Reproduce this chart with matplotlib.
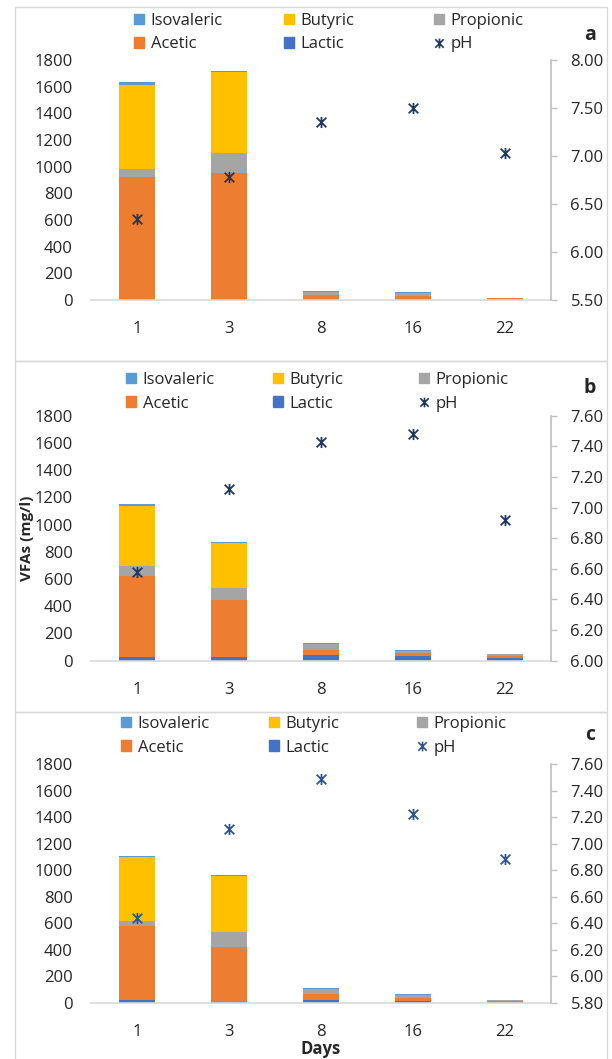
import matplotlib.pyplot as plt
from matplotlib.patches import Rectangle, Patch
from matplotlib.lines import Line2D
from matplotlib.path import Path
import numpy as np

plt.rcParams['font.family'] = ['Open Sans', 'DejaVu Sans']
plt.rcParams['font.size'] = 12
plt.rcParams['text.color'] = '#262626'

days = ["1", "3", "8", "16", "22"]

# VFA concentrations (mg/l) for the three runs
lactic_a = [10, 8, 8, 8, 0]
acetic_a = [915, 945, 30, 22, 12]
propionic_a = [58, 150, 24, 25, 0]
butyric_a = [630, 610, 0, 0, 0]
isovaleric_a = [20, 5, 8, 5, 0]
ph_a = [6.34, 6.78, 7.35, 7.50, 7.03]

lactic_b = [30, 28, 41, 34, 19]
acetic_b = [590, 416, 40, 22, 15]
propionic_b = [78, 93, 39, 14, 12]
butyric_b = [437, 326, 0, 0, 0]
isovaleric_b = [15, 9, 9, 6, 5]
ph_b = [6.58, 7.12, 7.43, 7.48, 6.92]

lactic_c = [18, 5, 17, 10, 0]
acetic_c = [562, 412, 45, 27, 12]
propionic_c = [37, 118, 43, 23, 11]
butyric_c = [485, 421, 0, 0, 0]
isovaleric_c = [8, 8, 8, 2, 0]
ph_c = [6.44, 7.11, 7.49, 7.22, 6.88]

colors = {"Lactic": "#4472C4", "Acetic": "#ED7D31", "Propionic": "#A5A5A5",
          "Butyric": "#FFC000", "Isovaleric": "#5B9BD5"}

# Excel-style star: an x crossed by a vertical stroke
star = Path([(-1, -1), (1, 1), (-1, 1), (1, -1), (0, -1.15), (0, 1.15)],
            [Path.MOVETO, Path.LINETO, Path.MOVETO, Path.LINETO,
             Path.MOVETO, Path.LINETO])

W, H = 612, 1059
fig = plt.figure(figsize=(W / 100, H / 100), dpi=100)


def px(x, y):
    return x / W, 1 - y / H


panels = [
    # letter, series, ph, ph ylim, ph ticks, axes top/bottom px, box top/bottom px,
    # legend columns x px, legend top px, letter y px, star colour
    ("a", [lactic_a, acetic_a, propionic_a, butyric_a, isovaleric_a], ph_a,
     (5.5, 8.0), np.arange(5.5, 8.01, 0.5), 60, 300, 7, 361,
     (134, 284, 434), 13, 35, "#1F3864"),
    ("b", [lactic_b, acetic_b, propionic_b, butyric_b, isovaleric_b], ph_b,
     (6.0, 7.6), np.arange(6.0, 7.61, 0.2), 415.7, 660.7, 361, 712,
     (126, 273, 419), 372, 388, "#1F3864"),
    ("c", [lactic_c, acetic_c, propionic_c, butyric_c, isovaleric_c], ph_c,
     (5.8, 7.6), np.arange(5.8, 7.61, 0.2), 764, 1002.7, 712, 1070,
     (121, 269, 417), 716, 735, "#2F5597"),
]

names = ["Lactic", "Acetic", "Propionic", "Butyric", "Isovaleric"]
x = np.arange(len(days))

for (letter, series, ph, phlim, phticks, top, bottom, btop, bbot,
     legx, legy, lety, starc) in panels:
    # light frame round each chart
    fig.add_artist(Rectangle(px(15, bbot), (607 - 15) / W, (bbot - btop) / H,
                             transform=fig.transFigure, fill=False,
                             ec="#D9D9D9", lw=1))

    l, b = px(91, bottom)
    ax = fig.add_axes([l, b, 460 / W, (bottom - top) / H])
    base = np.zeros(len(days))
    for name, vals in zip(names, series):
        ax.bar(x, vals, 0.4, bottom=base, color=colors[name], linewidth=0)
        base += np.array(vals)
    ax.set_xlim(-0.5, 4.5)
    ax.set_ylim(0, 1800)
    ax.set_yticks(range(0, 1801, 200))
    ax.set_xticks(x)
    ax.set_xticklabels(days)
    for s in ["top", "left", "right"]:
        ax.spines[s].set_visible(False)
    ax.spines["bottom"].set_color("#D9D9D9")
    ax.spines["bottom"].set_linewidth(1.2)
    ax.tick_params(axis="y", length=0, pad=13, labelsize=12, labelcolor="#262626")
    ax.tick_params(axis="x", length=0, pad=15, labelsize=12, labelcolor="#262626")

    ax2 = ax.twinx()
    ax2.plot(x, ph, linestyle="none", marker=star, markersize=8,
             markeredgewidth=1.3, color=starc)
    ax2.set_ylim(*phlim)
    ax2.set_yticks(phticks)
    ax2.set_yticklabels([f"{t:.2f}" for t in phticks])
    for s in ["top", "left", "bottom"]:
        ax2.spines[s].set_visible(False)
    ax2.spines["right"].set_color("#BFBFBF")
    ax2.spines["right"].set_linewidth(1.2)
    ax2.tick_params(axis="y", direction="out", length=4, width=1,
                    color="#BFBFBF", pad=10, labelsize=12, labelcolor="#262626")

    # legend laid out in three fixed columns
    cols = [[("Isovaleric", Patch(color=colors["Isovaleric"])),
             ("Acetic", Patch(color=colors["Acetic"]))],
            [("Butyric", Patch(color=colors["Butyric"])),
             ("Lactic", Patch(color=colors["Lactic"]))],
            [("Propionic", Patch(color=colors["Propionic"])),
             ("pH", Line2D([], [], linestyle="none", marker=star, markersize=7,
                           markeredgewidth=1.2, color=starc))]]
    for cx, entries in zip(legx, cols):
        fig.legend([h for _, h in entries], [t for t, _ in entries],
                   loc="upper left", bbox_to_anchor=px(cx, legy),
                   bbox_transform=fig.transFigure, frameon=False,
                   borderpad=0, borderaxespad=0, handlelength=0.6,
                   handleheight=0.6, handletextpad=0.4, labelspacing=0.45,
                   fontsize=12)

    fig.text(*px(590, lety), letter, fontsize=14, fontweight="bold",
             ha="center", va="center")

fig.text(*px(27, 538), "VFAs (mg/l)", rotation=90, fontsize=11,
         fontweight="bold", ha="center", va="center")
fig.text(*px(321, 1049), "Days", fontsize=12, fontweight="bold",
         ha="center", va="center")

fig.savefig("out.png", dpi=100)
